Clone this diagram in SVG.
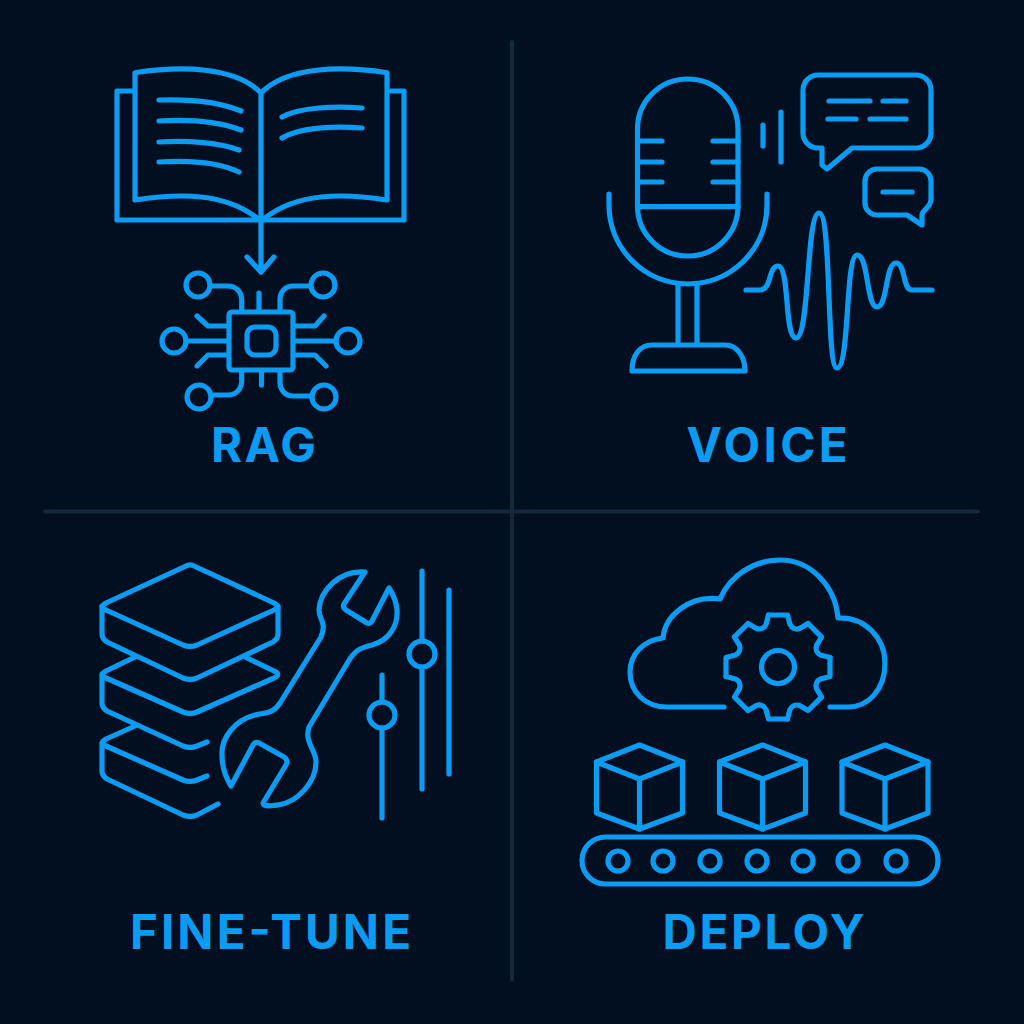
<svg xmlns="http://www.w3.org/2000/svg" xmlns:xlink="http://www.w3.org/1999/xlink" width="1024" height="1024" viewBox="0 0 1024 1024">
<style>
.s{fill:none;stroke:#0a9cf3;stroke-width:5.200;stroke-linecap:round;stroke-linejoin:round}
.d{fill:none;stroke:#15293d;stroke-width:4;stroke-linecap:round}
.t{font-family:"Inter","Liberation Sans",sans-serif;font-weight:700;font-size:47.500px;fill:#0a9cf3;text-anchor:middle}
</style>
<defs>
<path id="seg" d="M-9.500 -52H9.500L12 -42.500A7.500 7.500 0 0 0 21.600 -38.500L30.050 -43.500"/>
<g id="cube"><path d="M0 0L43 17V68L0 84L-43 68V17Z"/><path d="M-43 17L0 34L43 17M0 34V84"/></g>
</defs>
<rect width="1024" height="1024" fill="#010f20"/>
<g id="dividers"><path class="d" d="M512 42V980M45 511.500H978"/></g>
<g id="book" class="s">
<path d="M135 200V72.700C180 66 235 66 261 93C287 66 342 66 387 72.700V200C342 193 297 193 265 218L261 220L257 218C225 193 180 193 135 200Z"/>
<path d="M133 91H117V220H404V91H388"/>
<path d="M261 93V272M247 257L261 272L274 257"/>
<path d="M159 100C190 99 220 102 241 111M159 121C190 119 220 122 241 130M159 142C190 140 220 143 239 150M159 162C190 160 220 163 239 172"/>
<path d="M282 117C300 107 335 106 362 108M282 138C300 127 335 126 362 128"/>
</g>
<g id="chip" class="s">
<rect x="229" y="312" width="64" height="58" rx="3"/>
<rect x="247" y="327" width="29" height="28" rx="8"/>
<circle cx="198" cy="285" r="12"/><circle cx="323" cy="285" r="12"/><circle cx="174" cy="341" r="12"/><circle cx="348" cy="341" r="12"/><circle cx="199" cy="397" r="12"/><circle cx="324" cy="397" r="12"/>
<path d="M211 286H228C236 286 241.700 292 241.700 300V310M310 286H293C285 286 280 292 280 300V310M259 293V310M261.500 372V385M187 341H227M295 341H335"/>
<path d="M197 316L208 326H227M324 316L315 326H295M197 366L208 355H227M326 366L315 355H295"/>
<path d="M212 395H228C236 395 241.700 389 241.700 381V372M310 396H293C285 396 280 390 280 382V372"/>
</g>
<text class="t" x="263.500" y="461.500" textLength="105" lengthAdjust="spacing">RAG</text>
<g id="microphone" class="s">
<rect x="637.500" y="79" width="100.500" height="177" rx="50"/>
<path d="M638 206.700H738M638 141H662M638 162H662M638 182H662M713 141H738M713 162H738M713 182H738"/>
<path d="M609 194V205A79 79 0 0 0 767 205V194"/>
<path d="M678 284V345M697 284V345M632 371C632 355 640 345 652 345H725C738 345 745 358 745 371Z"/>
<path d="M763 125V146M781 112V162"/>
</g>
<g id="bubbles" class="s">
<path d="M818 75H916A15 15 0 0 1 931 90V133A15 15 0 0 1 916 148H852L827 169L822 165V148H818A15 15 0 0 1 803 133V90A15 15 0 0 1 818 75Z"/>
<path d="M829 101H870M883 101H906M828 119H856M870 119H906"/>
<path d="M877 169H919A12 12 0 0 1 931 181V199C931 208 922 210 922 215V225L907 215H877A12 12 0 0 1 865 203V181A12 12 0 0 1 877 169Z"/>
<path d="M883 192H912"/>
</g>
<g id="waveform" class="s"><path d="M746 290H760C772 290 768 266 778 266C790 266 784 338 796 338C810 338 806 213 819 213C832 213 826 368 837 368C850 368 845 255 857 255C869 255 866 307 877 307C888 307 885 263 896 263C906 263 902 290 912 290H932"/></g>
<text class="t" x="767" y="461.500" textLength="161" lengthAdjust="spacing">VOICE</text>
<g id="layers" class="s">
<path d="M186 566C188 564.500 192 564.500 194 566L274 603C279 606 279 608 274 610L197 645C192 647 188 647 183 645L106 610C101 608 101 606 106 603Z"/>
<path d="M102 606V634C102 638 104 640 107 642L183 678C188 680 192 680 197 678L273 642C276 640 278 638 278 634V606"/>
<path d="M135 657L106 671C101 674 101 676 106 678L183 712C188 714 192 714 197 712L274 678C279 676 279 673 274 671L245 657"/>
<path d="M102 674V703C102 707 104 709 107 711L183 746C188 748 192 748 197 746L207 742"/>
<path d="M135 726L106 739C101 742 101 744 106 746L183 780C188 782 192 782 197 780L207 776"/>
<path d="M102 743V771C102 775 104 777 107 779L183 815C188 817 192 817 197 815L218 804"/>
</g>
<g id="wrench" class="s">
<path d="M365 572C340 570 320 590 319 610C319 620 327 622 321 637L280 703C272 715 265 712 255 715C235 720 221 738 222 755C222 768 226 778 231 786L253 745C255 742 257 742 259 743L284 757C287 759 288 762 286 765L263 803C264 807 270 806 278 805C298 802 316 782 316 762C316 750 304 742 309 727L348 662C355 650 360 648 372 645C390 640 398 625 397 610C396 600 393 594 389 588L372 621C371 623 369 624 367 623L346 610C343 608 343 606 344 604Z"/>
</g>
<g id="sliders" class="s">
<path d="M422 571V641M422 667V789M449 590V774M382 675V702M382 728V818"/>
<circle cx="422" cy="654" r="13"/><circle cx="382" cy="715" r="13"/>
</g>
<text class="t" x="270.500" y="949" textLength="281" lengthAdjust="spacing">FINE-TUNE</text>
<g id="cloud" class="s"><path d="M724 707H667C645 707 630 692 630 672C630 654 644 640 663 638C665 615 690 595 720 599C730 575 755 560 780 560C810 560 835 585 838 618C865 617 885 638 885 663C885 690 868 707 848 707H830"/></g>
<g id="gear" class="s" transform="translate(778 667)">
<circle r="16.500"/>
<use href="#seg"/><use href="#seg" transform="rotate(45)"/><use href="#seg" transform="rotate(90)"/><use href="#seg" transform="rotate(135)"/><use href="#seg" transform="rotate(180)"/><use href="#seg" transform="rotate(225)"/><use href="#seg" transform="rotate(270)"/><use href="#seg" transform="rotate(315)"/>
</g>
<g id="cubes" class="s">
<use href="#cube" transform="translate(639.500 745)"/><use href="#cube" transform="translate(762.500 745)"/><use href="#cube" transform="translate(885 745)"/>
</g>
<g id="conveyor" class="s">
<rect x="582" y="837" width="356" height="47" rx="23.500"/>
<circle cx="618" cy="861" r="10"/><circle cx="663" cy="861" r="10"/><circle cx="710" cy="861" r="10"/><circle cx="757" cy="861" r="10"/><circle cx="803" cy="861" r="10"/><circle cx="848" cy="861" r="10"/><circle cx="896" cy="861" r="10"/>
</g>
<text class="t" x="763.500" y="949" textLength="202" lengthAdjust="spacing">DEPLOY</text>
</svg>
